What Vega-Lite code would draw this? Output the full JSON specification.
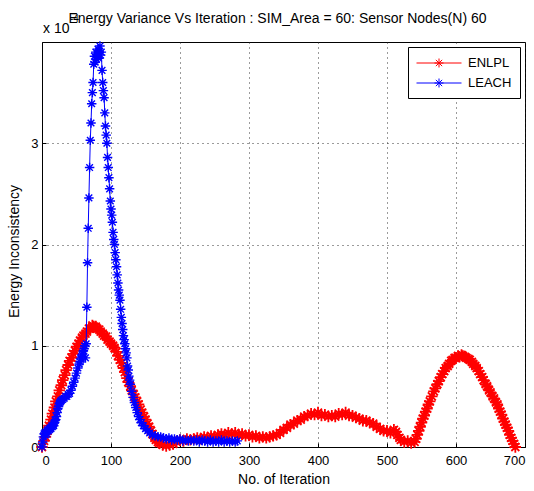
{
  "$schema": "https://vega.github.io/schema/vega-lite/v6.json",
  "autosize": "none",
  "width": 483,
  "height": 405,
  "padding": {"left": 42, "top": 42, "right": 9, "bottom": 44},
  "background": "white",
  "title": {
    "text": "Energy Variance Vs Iteration : SIM_Area = 60: Sensor Nodes(N) 60",
    "font": "Liberation Sans",
    "fontSize": 14,
    "fontWeight": "normal",
    "color": "#000",
    "anchor": "middle",
    "baseline": "alphabetic",
    "dx": -6,
    "offset": -23
  },
  "config": {
    "view": {"stroke": "#000", "strokeWidth": 1},
    "axis": {
      "domainColor": "#000",
      "tickColor": "#000",
      "labelColor": "#000",
      "titleColor": "#000",
      "labelFont": "Liberation Sans",
      "titleFont": "Liberation Sans",
      "labelFontSize": 13,
      "titleFontSize": 14,
      "titleFontWeight": "normal",
      "gridColor": "#222",
      "gridDash": [1, 4],
      "gridOpacity": 0.9,
      "tickSize": -4
    },
    "legend": {
      "orient": "top-right",
      "offset": 5,
      "strokeColor": "#000",
      "fillColor": "#fff",
      "padding": 8,
      "rowPadding": 5,
      "labelFont": "Liberation Sans",
      "labelFontSize": 13,
      "labelColor": "#000",
      "symbolType": "M-1,0L5,0M1.4,0L2.6,0M2,-0.6L2,0.6M1.58,-0.42L2.42,0.42M1.58,0.42L2.42,-0.42",
      "symbolSize": 225,
      "symbolStrokeWidth": 1,
      "symbolFillColor": "transparent",
      "labelOffset": 36
    }
  },
  "data": {
    "values": [
      {"s":"ENLPL","i":0,"v":0.00},{"s":"ENLPL","i":3,"v":0.06},{"s":"ENLPL","i":5,"v":0.10},{"s":"ENLPL","i":8,"v":0.16},{"s":"ENLPL","i":10,"v":0.21},{"s":"ENLPL","i":13,"v":0.27},{"s":"ENLPL","i":15,"v":0.33},{"s":"ENLPL","i":18,"v":0.39},{"s":"ENLPL","i":20,"v":0.45},{"s":"ENLPL","i":23,"v":0.50},{"s":"ENLPL","i":25,"v":0.56},{"s":"ENLPL","i":28,"v":0.61},{"s":"ENLPL","i":30,"v":0.66},{"s":"ENLPL","i":33,"v":0.71},{"s":"ENLPL","i":35,"v":0.76},{"s":"ENLPL","i":38,"v":0.81},{"s":"ENLPL","i":40,"v":0.85},{"s":"ENLPL","i":43,"v":0.88},{"s":"ENLPL","i":45,"v":0.92},{"s":"ENLPL","i":48,"v":0.95},{"s":"ENLPL","i":50,"v":0.99},{"s":"ENLPL","i":53,"v":1.02},{"s":"ENLPL","i":55,"v":1.05},{"s":"ENLPL","i":58,"v":1.08},{"s":"ENLPL","i":60,"v":1.10},{"s":"ENLPL","i":63,"v":1.12},{"s":"ENLPL","i":65,"v":1.14},{"s":"ENLPL","i":68,"v":1.17},{"s":"ENLPL","i":70,"v":1.17},{"s":"ENLPL","i":73,"v":1.20},{"s":"ENLPL","i":75,"v":1.19},{"s":"ENLPL","i":78,"v":1.19},{"s":"ENLPL","i":80,"v":1.17},{"s":"ENLPL","i":83,"v":1.16},{"s":"ENLPL","i":85,"v":1.14},{"s":"ENLPL","i":88,"v":1.12},{"s":"ENLPL","i":90,"v":1.10},{"s":"ENLPL","i":93,"v":1.09},{"s":"ENLPL","i":95,"v":1.06},{"s":"ENLPL","i":98,"v":1.04},{"s":"ENLPL","i":100,"v":1.02},{"s":"ENLPL","i":103,"v":1.00},{"s":"ENLPL","i":105,"v":0.98},{"s":"ENLPL","i":108,"v":0.94},{"s":"ENLPL","i":110,"v":0.90},{"s":"ENLPL","i":113,"v":0.86},{"s":"ENLPL","i":115,"v":0.83},{"s":"ENLPL","i":118,"v":0.78},{"s":"ENLPL","i":120,"v":0.74},{"s":"ENLPL","i":123,"v":0.68},{"s":"ENLPL","i":125,"v":0.64},{"s":"ENLPL","i":128,"v":0.60},{"s":"ENLPL","i":130,"v":0.56},{"s":"ENLPL","i":133,"v":0.52},{"s":"ENLPL","i":135,"v":0.49},{"s":"ENLPL","i":138,"v":0.45},{"s":"ENLPL","i":140,"v":0.42},{"s":"ENLPL","i":143,"v":0.37},{"s":"ENLPL","i":145,"v":0.34},{"s":"ENLPL","i":148,"v":0.30},{"s":"ENLPL","i":150,"v":0.27},{"s":"ENLPL","i":153,"v":0.23},{"s":"ENLPL","i":155,"v":0.20},{"s":"ENLPL","i":158,"v":0.16},{"s":"ENLPL","i":160,"v":0.13},{"s":"ENLPL","i":163,"v":0.09},{"s":"ENLPL","i":165,"v":0.07},{"s":"ENLPL","i":168,"v":0.05},{"s":"ENLPL","i":170,"v":0.04},{"s":"ENLPL","i":175,"v":0.02},{"s":"ENLPL","i":180,"v":0.01},{"s":"ENLPL","i":185,"v":0.02},{"s":"ENLPL","i":190,"v":0.03},{"s":"ENLPL","i":195,"v":0.05},{"s":"ENLPL","i":200,"v":0.07},{"s":"ENLPL","i":205,"v":0.06},{"s":"ENLPL","i":210,"v":0.08},{"s":"ENLPL","i":215,"v":0.07},{"s":"ENLPL","i":220,"v":0.08},{"s":"ENLPL","i":225,"v":0.09},{"s":"ENLPL","i":230,"v":0.08},{"s":"ENLPL","i":235,"v":0.10},{"s":"ENLPL","i":240,"v":0.09},{"s":"ENLPL","i":245,"v":0.11},{"s":"ENLPL","i":250,"v":0.10},{"s":"ENLPL","i":255,"v":0.12},{"s":"ENLPL","i":260,"v":0.13},{"s":"ENLPL","i":265,"v":0.12},{"s":"ENLPL","i":270,"v":0.14},{"s":"ENLPL","i":275,"v":0.13},{"s":"ENLPL","i":280,"v":0.14},{"s":"ENLPL","i":285,"v":0.12},{"s":"ENLPL","i":290,"v":0.13},{"s":"ENLPL","i":295,"v":0.11},{"s":"ENLPL","i":300,"v":0.12},{"s":"ENLPL","i":305,"v":0.10},{"s":"ENLPL","i":310,"v":0.11},{"s":"ENLPL","i":315,"v":0.09},{"s":"ENLPL","i":320,"v":0.10},{"s":"ENLPL","i":325,"v":0.09},{"s":"ENLPL","i":330,"v":0.10},{"s":"ENLPL","i":335,"v":0.11},{"s":"ENLPL","i":340,"v":0.12},{"s":"ENLPL","i":345,"v":0.14},{"s":"ENLPL","i":350,"v":0.17},{"s":"ENLPL","i":355,"v":0.19},{"s":"ENLPL","i":360,"v":0.22},{"s":"ENLPL","i":365,"v":0.23},{"s":"ENLPL","i":370,"v":0.26},{"s":"ENLPL","i":375,"v":0.27},{"s":"ENLPL","i":380,"v":0.30},{"s":"ENLPL","i":385,"v":0.31},{"s":"ENLPL","i":390,"v":0.33},{"s":"ENLPL","i":395,"v":0.32},{"s":"ENLPL","i":400,"v":0.34},{"s":"ENLPL","i":405,"v":0.31},{"s":"ENLPL","i":410,"v":0.32},{"s":"ENLPL","i":415,"v":0.30},{"s":"ENLPL","i":420,"v":0.31},{"s":"ENLPL","i":425,"v":0.30},{"s":"ENLPL","i":430,"v":0.33},{"s":"ENLPL","i":435,"v":0.32},{"s":"ENLPL","i":440,"v":0.34},{"s":"ENLPL","i":445,"v":0.31},{"s":"ENLPL","i":450,"v":0.31},{"s":"ENLPL","i":455,"v":0.29},{"s":"ENLPL","i":460,"v":0.28},{"s":"ENLPL","i":465,"v":0.26},{"s":"ENLPL","i":470,"v":0.26},{"s":"ENLPL","i":475,"v":0.24},{"s":"ENLPL","i":480,"v":0.23},{"s":"ENLPL","i":485,"v":0.20},{"s":"ENLPL","i":490,"v":0.18},{"s":"ENLPL","i":495,"v":0.16},{"s":"ENLPL","i":500,"v":0.16},{"s":"ENLPL","i":505,"v":0.14},{"s":"ENLPL","i":510,"v":0.17},{"s":"ENLPL","i":513,"v":0.15},{"s":"ENLPL","i":515,"v":0.12},{"s":"ENLPL","i":518,"v":0.09},{"s":"ENLPL","i":520,"v":0.07},{"s":"ENLPL","i":525,"v":0.05},{"s":"ENLPL","i":530,"v":0.06},{"s":"ENLPL","i":535,"v":0.04},{"s":"ENLPL","i":540,"v":0.05},{"s":"ENLPL","i":542,"v":0.08},{"s":"ENLPL","i":544,"v":0.12},{"s":"ENLPL","i":546,"v":0.16},{"s":"ENLPL","i":548,"v":0.20},{"s":"ENLPL","i":550,"v":0.24},{"s":"ENLPL","i":552,"v":0.28},{"s":"ENLPL","i":554,"v":0.31},{"s":"ENLPL","i":556,"v":0.35},{"s":"ENLPL","i":558,"v":0.38},{"s":"ENLPL","i":560,"v":0.42},{"s":"ENLPL","i":562,"v":0.45},{"s":"ENLPL","i":565,"v":0.50},{"s":"ENLPL","i":568,"v":0.55},{"s":"ENLPL","i":570,"v":0.58},{"s":"ENLPL","i":573,"v":0.62},{"s":"ENLPL","i":575,"v":0.65},{"s":"ENLPL","i":578,"v":0.69},{"s":"ENLPL","i":580,"v":0.72},{"s":"ENLPL","i":583,"v":0.75},{"s":"ENLPL","i":585,"v":0.78},{"s":"ENLPL","i":588,"v":0.80},{"s":"ENLPL","i":590,"v":0.82},{"s":"ENLPL","i":593,"v":0.85},{"s":"ENLPL","i":595,"v":0.86},{"s":"ENLPL","i":598,"v":0.88},{"s":"ENLPL","i":600,"v":0.88},{"s":"ENLPL","i":603,"v":0.90},{"s":"ENLPL","i":605,"v":0.89},{"s":"ENLPL","i":608,"v":0.91},{"s":"ENLPL","i":610,"v":0.90},{"s":"ENLPL","i":613,"v":0.89},{"s":"ENLPL","i":615,"v":0.88},{"s":"ENLPL","i":618,"v":0.87},{"s":"ENLPL","i":620,"v":0.86},{"s":"ENLPL","i":623,"v":0.84},{"s":"ENLPL","i":625,"v":0.82},{"s":"ENLPL","i":628,"v":0.80},{"s":"ENLPL","i":630,"v":0.78},{"s":"ENLPL","i":633,"v":0.75},{"s":"ENLPL","i":635,"v":0.72},{"s":"ENLPL","i":638,"v":0.69},{"s":"ENLPL","i":640,"v":0.66},{"s":"ENLPL","i":643,"v":0.62},{"s":"ENLPL","i":645,"v":0.60},{"s":"ENLPL","i":648,"v":0.56},{"s":"ENLPL","i":650,"v":0.54},{"s":"ENLPL","i":653,"v":0.50},{"s":"ENLPL","i":655,"v":0.48},{"s":"ENLPL","i":658,"v":0.44},{"s":"ENLPL","i":660,"v":0.42},{"s":"ENLPL","i":662,"v":0.38},{"s":"ENLPL","i":664,"v":0.35},{"s":"ENLPL","i":666,"v":0.32},{"s":"ENLPL","i":668,"v":0.28},{"s":"ENLPL","i":670,"v":0.25},{"s":"ENLPL","i":672,"v":0.22},{"s":"ENLPL","i":674,"v":0.19},{"s":"ENLPL","i":676,"v":0.16},{"s":"ENLPL","i":678,"v":0.12},{"s":"ENLPL","i":680,"v":0.09},{"s":"ENLPL","i":682,"v":0.06},{"s":"ENLPL","i":684,"v":0.03},{"s":"ENLPL","i":686,"v":0.00},
      {"s":"LEACH","i":0,"v":0.00},{"s":"LEACH","i":1,"v":0.05},{"s":"LEACH","i":2,"v":0.10},{"s":"LEACH","i":3,"v":0.13},{"s":"LEACH","i":4,"v":0.14},{"s":"LEACH","i":5,"v":0.12},{"s":"LEACH","i":6,"v":0.15},{"s":"LEACH","i":7,"v":0.13},{"s":"LEACH","i":8,"v":0.17},{"s":"LEACH","i":9,"v":0.16},{"s":"LEACH","i":10,"v":0.18},{"s":"LEACH","i":11,"v":0.17},{"s":"LEACH","i":12,"v":0.19},{"s":"LEACH","i":13,"v":0.18},{"s":"LEACH","i":14,"v":0.21},{"s":"LEACH","i":15,"v":0.20},{"s":"LEACH","i":16,"v":0.22},{"s":"LEACH","i":17,"v":0.21},{"s":"LEACH","i":18,"v":0.24},{"s":"LEACH","i":19,"v":0.26},{"s":"LEACH","i":20,"v":0.27},{"s":"LEACH","i":21,"v":0.30},{"s":"LEACH","i":22,"v":0.34},{"s":"LEACH","i":23,"v":0.38},{"s":"LEACH","i":24,"v":0.40},{"s":"LEACH","i":25,"v":0.43},{"s":"LEACH","i":26,"v":0.44},{"s":"LEACH","i":27,"v":0.45},{"s":"LEACH","i":28,"v":0.46},{"s":"LEACH","i":30,"v":0.47},{"s":"LEACH","i":32,"v":0.48},{"s":"LEACH","i":34,"v":0.50},{"s":"LEACH","i":36,"v":0.50},{"s":"LEACH","i":38,"v":0.52},{"s":"LEACH","i":40,"v":0.53},{"s":"LEACH","i":42,"v":0.56},{"s":"LEACH","i":44,"v":0.60},{"s":"LEACH","i":46,"v":0.64},{"s":"LEACH","i":48,"v":0.68},{"s":"LEACH","i":50,"v":0.73},{"s":"LEACH","i":52,"v":0.78},{"s":"LEACH","i":54,"v":0.82},{"s":"LEACH","i":55,"v":0.84},{"s":"LEACH","i":56,"v":0.87},{"s":"LEACH","i":57,"v":0.88},{"s":"LEACH","i":58,"v":0.91},{"s":"LEACH","i":59,"v":0.92},{"s":"LEACH","i":60,"v":0.95},{"s":"LEACH","i":61,"v":0.97},{"s":"LEACH","i":62,"v":1.00},{"s":"LEACH","i":63,"v":0.88},{"s":"LEACH","i":64,"v":1.02},{"s":"LEACH","i":65,"v":1.38},{"s":"LEACH","i":66,"v":1.82},{"s":"LEACH","i":67,"v":2.16},{"s":"LEACH","i":68,"v":2.46},{"s":"LEACH","i":69,"v":2.76},{"s":"LEACH","i":70,"v":3.03},{"s":"LEACH","i":71,"v":3.20},{"s":"LEACH","i":72,"v":3.39},{"s":"LEACH","i":73,"v":3.50},{"s":"LEACH","i":74,"v":3.60},{"s":"LEACH","i":75,"v":3.78},{"s":"LEACH","i":76,"v":3.86},{"s":"LEACH","i":77,"v":3.80},{"s":"LEACH","i":78,"v":3.90},{"s":"LEACH","i":79,"v":3.83},{"s":"LEACH","i":80,"v":3.88},{"s":"LEACH","i":81,"v":3.93},{"s":"LEACH","i":82,"v":3.84},{"s":"LEACH","i":83,"v":3.91},{"s":"LEACH","i":84,"v":3.96},{"s":"LEACH","i":85,"v":3.87},{"s":"LEACH","i":86,"v":3.90},{"s":"LEACH","i":87,"v":3.72},{"s":"LEACH","i":88,"v":3.60},{"s":"LEACH","i":89,"v":3.52},{"s":"LEACH","i":90,"v":3.45},{"s":"LEACH","i":91,"v":3.30},{"s":"LEACH","i":92,"v":3.17},{"s":"LEACH","i":93,"v":3.08},{"s":"LEACH","i":94,"v":3.00},{"s":"LEACH","i":95,"v":2.86},{"s":"LEACH","i":96,"v":2.76},{"s":"LEACH","i":97,"v":2.66},{"s":"LEACH","i":98,"v":2.55},{"s":"LEACH","i":99,"v":2.43},{"s":"LEACH","i":100,"v":2.35},{"s":"LEACH","i":101,"v":2.29},{"s":"LEACH","i":102,"v":2.22},{"s":"LEACH","i":103,"v":2.12},{"s":"LEACH","i":104,"v":2.05},{"s":"LEACH","i":105,"v":2.00},{"s":"LEACH","i":106,"v":1.92},{"s":"LEACH","i":107,"v":1.85},{"s":"LEACH","i":108,"v":1.78},{"s":"LEACH","i":109,"v":1.70},{"s":"LEACH","i":110,"v":1.62},{"s":"LEACH","i":111,"v":1.55},{"s":"LEACH","i":112,"v":1.50},{"s":"LEACH","i":113,"v":1.45},{"s":"LEACH","i":114,"v":1.36},{"s":"LEACH","i":115,"v":1.28},{"s":"LEACH","i":116,"v":1.22},{"s":"LEACH","i":117,"v":1.16},{"s":"LEACH","i":118,"v":1.10},{"s":"LEACH","i":119,"v":1.06},{"s":"LEACH","i":120,"v":1.02},{"s":"LEACH","i":121,"v":0.97},{"s":"LEACH","i":122,"v":0.93},{"s":"LEACH","i":123,"v":0.88},{"s":"LEACH","i":124,"v":0.80},{"s":"LEACH","i":125,"v":0.76},{"s":"LEACH","i":126,"v":0.70},{"s":"LEACH","i":127,"v":0.66},{"s":"LEACH","i":128,"v":0.62},{"s":"LEACH","i":130,"v":0.55},{"s":"LEACH","i":132,"v":0.49},{"s":"LEACH","i":134,"v":0.44},{"s":"LEACH","i":136,"v":0.39},{"s":"LEACH","i":138,"v":0.34},{"s":"LEACH","i":140,"v":0.30},{"s":"LEACH","i":142,"v":0.27},{"s":"LEACH","i":144,"v":0.24},{"s":"LEACH","i":147,"v":0.21},{"s":"LEACH","i":150,"v":0.18},{"s":"LEACH","i":153,"v":0.16},{"s":"LEACH","i":156,"v":0.14},{"s":"LEACH","i":160,"v":0.12},{"s":"LEACH","i":164,"v":0.11},{"s":"LEACH","i":168,"v":0.10},{"s":"LEACH","i":172,"v":0.10},{"s":"LEACH","i":176,"v":0.09},{"s":"LEACH","i":180,"v":0.08},{"s":"LEACH","i":184,"v":0.09},{"s":"LEACH","i":188,"v":0.07},{"s":"LEACH","i":192,"v":0.08},{"s":"LEACH","i":196,"v":0.07},{"s":"LEACH","i":200,"v":0.08},{"s":"LEACH","i":204,"v":0.06},{"s":"LEACH","i":208,"v":0.07},{"s":"LEACH","i":212,"v":0.06},{"s":"LEACH","i":216,"v":0.07},{"s":"LEACH","i":220,"v":0.06},{"s":"LEACH","i":224,"v":0.07},{"s":"LEACH","i":228,"v":0.05},{"s":"LEACH","i":232,"v":0.07},{"s":"LEACH","i":236,"v":0.06},{"s":"LEACH","i":240,"v":0.05},{"s":"LEACH","i":244,"v":0.07},{"s":"LEACH","i":248,"v":0.05},{"s":"LEACH","i":252,"v":0.06},{"s":"LEACH","i":256,"v":0.05},{"s":"LEACH","i":260,"v":0.07},{"s":"LEACH","i":264,"v":0.05},{"s":"LEACH","i":268,"v":0.06},{"s":"LEACH","i":272,"v":0.05},{"s":"LEACH","i":276,"v":0.06},{"s":"LEACH","i":280,"v":0.05},{"s":"LEACH","i":283,"v":0.06}
    ]
  },
  "encoding": {
    "x": {
      "field": "i", "type": "quantitative",
      "scale": {"domain": [0, 700], "nice": false, "zero": false},
      "axis": {"title": "No. of Iteration", "values": [0,100,200,300,400,500,600,700], "labelPadding": 11, "titlePadding": 5, "grid": true}
    },
    "y": {
      "field": "v", "type": "quantitative",
      "scale": {"domain": [0, 4], "nice": false},
      "axis": {"title": "Energy Inconsistency", "values": [0,1,2,3], "labelPadding": 8, "titlePadding": 9, "titleY": 209, "grid": true}
    },
    "color": {
      "field": "s", "type": "nominal",
      "scale": {"domain": ["ENLPL", "LEACH"], "range": ["#ff0000", "#0000ff"]},
      "legend": {"title": null}
    }
  },
  "layer": [
    {"transform": [{"filter": "datum.s === 'ENLPL'"}], "mark": {"type": "line", "strokeWidth": 1}},
    {"transform": [{"filter": "datum.s === 'ENLPL'"}], "mark": {"type": "point", "filled": false, "strokeWidth": 1.8, "size": 130, "opacity": 1, "shape": "M-1,0L1,0M0,-1L0,1M-0.7,-0.7L0.7,0.7M-0.7,0.7L0.7,-0.7"}},
    {"transform": [{"filter": "datum.s === 'LEACH'"}], "mark": {"type": "line", "strokeWidth": 1}},
    {"transform": [{"filter": "datum.s === 'LEACH'"}], "mark": {"type": "point", "filled": false, "strokeWidth": 1.4, "size": 90, "opacity": 1, "shape": "M-1,0L1,0M0,-1L0,1M-0.7,-0.7L0.7,0.7M-0.7,0.7L0.7,-0.7"}},
    {
      "transform": [{"filter": "datum.s === 'ENLPL' && datum.i === 0"}],
      "mark": {"type": "text", "text": "x 10", "align": "left", "baseline": "alphabetic", "dx": 1, "dy": -9, "font": "Liberation Sans", "fontSize": 14, "color": "#000"},
      "encoding": {"x": {"datum": 0}, "y": {"datum": 4}, "color": {"value": "#000"}}
    },
    {
      "transform": [{"filter": "datum.s === 'ENLPL' && datum.i === 0"}],
      "mark": {"type": "text", "text": "-4", "align": "left", "baseline": "alphabetic", "dx": 28, "dy": -20, "font": "Liberation Sans", "fontSize": 10, "color": "#000"},
      "encoding": {"x": {"datum": 0}, "y": {"datum": 4}, "color": {"value": "#000"}}
    }
  ]
}
